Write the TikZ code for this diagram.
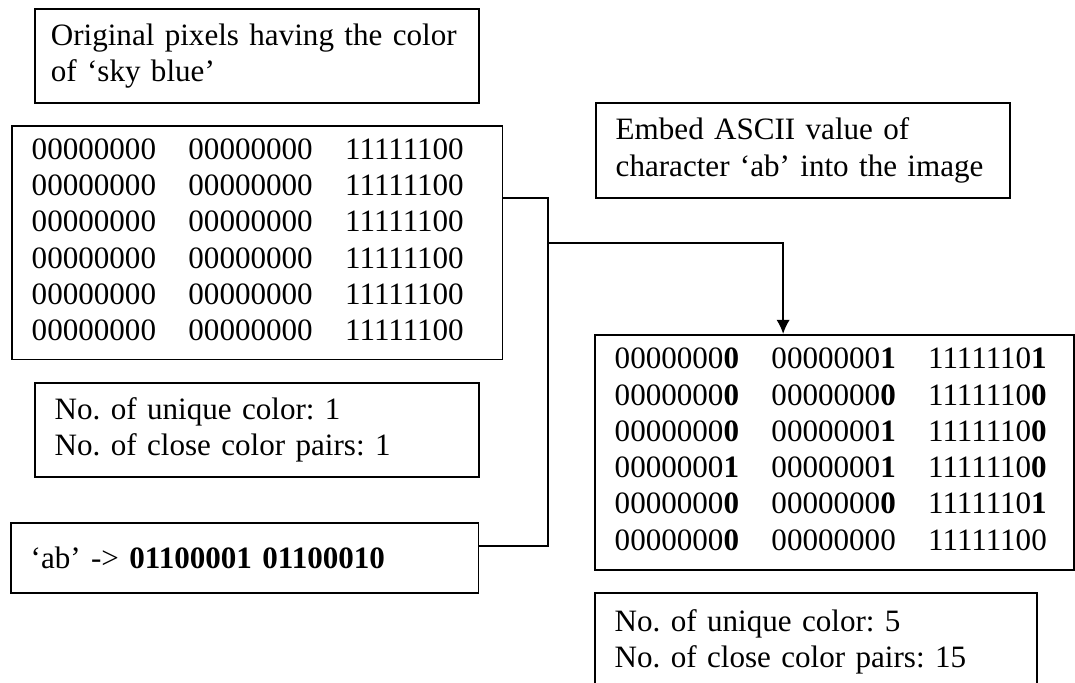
\documentclass[tikz,border=0pt]{standalone}
\usepackage{fontspec}
\setmainfont{Liberation Serif}
\usepackage{tikz}
\usetikzlibrary{arrows.meta}
\frenchspacing

\tikzset{
  box/.style={draw, line width=0.6pt, anchor=north west, inner xsep=7.7pt, inner ysep=0pt,
    align=left, font=\fontsize{12}{14}\selectfont},
  wire/.style={line width=0.7pt},
}

\begin{document}
\begin{tikzpicture}[x=0.386pt, y=-0.386pt]
            \useasboundingbox (0,0) rectangle (1075,682);
            \clip (0,0) rectangle (1075,682);

            \node[box, inner xsep=6.2pt, text width=159pt, minimum height=36.3pt] (orig) at (34,8) {Original pixels having the color\\of `sky blue'};
            \node[box, text width=174.1pt, minimum height=90.3pt] (pixold) at (11,125) {%
              \begin{tabular}{@{}p{60.5pt}@{}p{60.5pt}@{}l@{}}
                00000000 & 00000000 & 11111100\\
                00000000 & 00000000 & 11111100\\
                00000000 & 00000000 & 11111100\\
                00000000 & 00000000 & 11111100\\
                00000000 & 00000000 & 11111100\\
                00000000 & 00000000 & 11111100
              \end{tabular}};
            \node[box, text width=156pt, minimum height=36.3pt] (statold) at (34,382) {No. of unique color: 1\\No. of close color pairs: 1};
            \node[box, text width=165.2pt, minimum height=27pt] (msg) at (10,522) {`ab' -> \textbf{01100001 01100010}};

            \node[box, text width=144.4pt, minimum height=36.7pt] (embed) at (595,102) {Embed ASCII value of\\character `ab' into the image};
            \node[box, text width=169.5pt, minimum height=90.7pt] (pixnew) at (594,334) {%
              \begin{tabular}{@{}p{60.5pt}@{}p{60.5pt}@{}l@{}}
                0000000\textbf{0} & 0000000\textbf{1} & 1111110\textbf{1}\\
                0000000\textbf{0} & 0000000\textbf{0} & 1111110\textbf{0}\\
                0000000\textbf{0} & 0000000\textbf{1} & 1111110\textbf{0}\\
                0000000\textbf{1} & 0000000\textbf{1} & 1111110\textbf{0}\\
                0000000\textbf{0} & 0000000\textbf{0} & 1111110\textbf{1}\\
                0000000\textbf{0} & 00000000 & 11111100
              \end{tabular}};
            \node[box, text width=155.2pt, minimum height=37.8pt] (statnew) at (594,592) {No. of unique color: 5\\No. of close color pairs: 15};

            \coordinate (split) at (548,243);

            \draw[wire] ([yshift=17.4pt]pixold.east) -| (split) |- ([yshift=4.6pt]msg.east);
            \draw[wire, -{Latex[length=5.5pt, width=5.2pt]}] (split) -| ([xshift=73pt]pixnew.north west);
        \end{tikzpicture}
\end{document}
